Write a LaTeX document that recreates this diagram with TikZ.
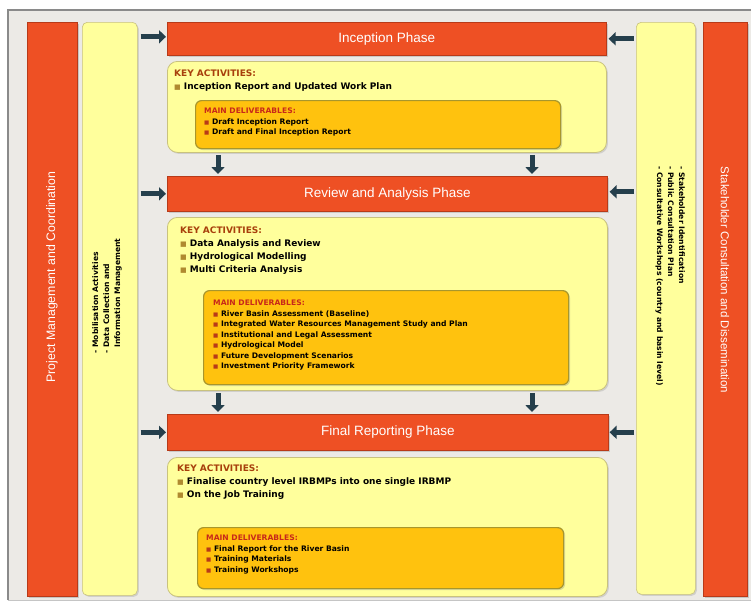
\documentclass[tikz,border=0pt]{standalone}
\usepackage{fontspec}
\setmainfont{Liberation Sans}
\newfontfamily\dvs{DejaVu Sans}
\usetikzlibrary{arrows.meta,shadows}
\definecolor{bgc}{HTML}{ECEAE6}
\definecolor{framec}{HTML}{8A8A8A}
\definecolor{redc}{HTML}{EE5024}
\definecolor{redd}{HTML}{B83A18}
\definecolor{yelc}{HTML}{FFFF9C}
\definecolor{yeld}{HTML}{C9C27E}
\definecolor{orc}{HTML}{FFC20E}
\definecolor{ord}{HTML}{A8962C}
\definecolor{keyc}{HTML}{A8400C}
\definecolor{delc}{HTML}{C8281A}
\definecolor{arrc}{HTML}{253F4C}
\definecolor{bulc}{HTML}{B08A30}
\tikzset{
  x=1pt, y=-1pt,
  redbar/.style={fill=redc, draw=redd, line width=0.6pt, inner sep=0pt, anchor=north west,
    drop shadow={opacity=0.35, shadow xshift=2pt, shadow yshift=-1.5pt}},
  yelbar/.style={fill=yelc, draw=yeld, line width=0.6pt, rounded corners=5pt, inner sep=0pt, anchor=north west,
    drop shadow={opacity=0.25, shadow xshift=1.5pt, shadow yshift=-1.5pt}},
  hdr/.style={fill=redc, draw=redd, line width=0.6pt, inner sep=0pt, anchor=north west,
    text=white, font=\fontsize{13.5}{15}\selectfont,
    drop shadow={opacity=0.3, shadow xshift=1.5pt, shadow yshift=-1.5pt}},
  cbox/.style={fill=yelc, draw=yeld, line width=0.8pt, rounded corners=10pt, inner sep=0pt, anchor=north west,
    drop shadow={opacity=0.25, shadow xshift=1.5pt, shadow yshift=-1.5pt}},
  dbox/.style={fill=orc, draw=ord, line width=1.2pt, rounded corners=6pt, inner sep=0pt, anchor=north west,
    drop shadow={opacity=0.3, shadow xshift=1.5pt, shadow yshift=-1.5pt}},
  acttext/.style={align=left, inner sep=0pt, anchor=north west, font=\dvs\fontsize{9}{13}\selectfont\bfseries},
  deltext/.style={align=left, inner sep=0pt, anchor=north west, font=\dvs\fontsize{7.6}{10.5}\selectfont\bfseries},
  sidetext/.style={align=left, inner sep=0pt, font=\dvs\fontsize{7.6}{11}\selectfont\bfseries},
  bartext/.style={text=white, inner sep=0pt},
  blk/.style={draw=arrc, line width=5pt, -{Triangle[length=7pt,width=13pt]}},
}
\newcommand{\kb}{\textcolor{bulc}{\fontsize{7}{7}\selectfont■}\ }
\newcommand{\db}{\textcolor{redd}{\fontsize{5.5}{5.5}\selectfont■}\ }
\begin{document}
\begin{tikzpicture}
\useasboundingbox (0,0) rectangle (751,603);
\fill[white] (0,0) rectangle (751,603);
\fill[bgc] (8,10) rectangle (751,600);
\draw[framec, line width=1.2pt] (8,600) -- (8,10) -- (751,10);
\draw[framec!50, line width=0.8pt] (8,600) -- (751,600);

% side bars
\node[redbar, minimum width=50pt, minimum height=574pt] (lred) at (27,22) {};
\node[yelbar, minimum width=55pt, minimum height=573pt] (lyel) at (82,22) {};
\node[yelbar, minimum width=59pt, minimum height=572pt] (ryel) at (636,22) {};
\node[redbar, minimum width=44pt, minimum height=574pt] (rred) at (703,22) {};

\node[bartext, rotate=90, font=\fontsize{12.3}{14}\selectfont] (lredt) at (52,277) {Project Management and Coordination};
\node[bartext, rotate=-90, font=\fontsize{11.5}{14}\selectfont] (rredt) at (725,280) {Stakeholder Consultation and Dissemination};

\node[sidetext, rotate=90] (lyelt) at (107,296) {- Mobilisation Activities\\- Data Collection and\\\phantom{- }Information Management};
\node[sidetext, rotate=-90, anchor=north west] (ryelt) at (685,166) {- Stakeholder Identification\\- Public Consultation Plan\\- Consultative Workshops (country and basin level)};

% Inception phase
\node[hdr, minimum width=439pt, minimum height=33pt] (ih) at (167,22) {Inception Phase};
\node[cbox, minimum width=439pt, minimum height=91pt] (ic) at (167,61) {};
\node[dbox, minimum width=365pt, minimum height=48pt] (idl) at (195,100) {};
\node[acttext] (ia) at (174,70) {\textcolor{keyc}{KEY ACTIVITIES:}\\\kb Inception Report and Updated Work Plan};
\node[deltext] (id) at (204,108) {\textcolor{delc}{MAIN DELIVERABLES:}\\\db Draft Inception Report\\\db Draft and Final Inception Report};

% Review phase
\node[hdr, minimum width=440pt, minimum height=35pt] (rh) at (167,176) {Review and Analysis Phase};
\node[cbox, minimum width=440pt, minimum height=173pt] (rc) at (167,217) {};
\node[dbox, minimum width=365pt, minimum height=94pt] (rdl) at (203,290) {};
\node[acttext] (ra) at (180,227) {\textcolor{keyc}{KEY ACTIVITIES:}\\\kb Data Analysis and Review\\\kb Hydrological Modelling\\\kb Multi Criteria Analysis};
\node[deltext] (rd) at (213,300) {\textcolor{delc}{MAIN DELIVERABLES:}\\\db River Basin Assessment (Baseline)\\\db Integrated Water Resources Management Study and Plan\\\db Institutional and Legal Assessment\\\db Hydrological Model\\\db Future Development Scenarios\\\db Investment Priority Framework};

% Final reporting phase
\node[hdr, minimum width=441pt, minimum height=36pt] (fh) at (167,414) {Final Reporting Phase};
\node[cbox, minimum width=440pt, minimum height=139pt] (fc) at (167,457) {};
\node[dbox, minimum width=366pt, minimum height=61pt] (fdl) at (197,527) {};
\node[acttext] (fa) at (177,465) {\textcolor{keyc}{KEY ACTIVITIES:}\\\kb Finalise country level IRBMPs into one single IRBMP\\\kb On the Job Training};
\node[deltext] (fd) at (206,535) {\textcolor{delc}{MAIN DELIVERABLES:}\\\db Final Report for the River Basin\\\db Training Materials\\\db Training Workshops};

% arrows from side bars
\draw[blk, shorten <=3pt, shorten >=1pt] ([yshift=2pt]lyel.east |- ih.west) -- ([yshift=2pt]ih.west);
\draw[blk, shorten <=3pt, shorten >=1pt] (lyel.east |- rh.west) -- (rh.west);
\draw[blk, shorten <=3pt, shorten >=1pt] (lyel.east |- fh.west) -- (fh.west);
\draw[blk, shorten <=2pt, shorten >=2pt] (ryel.west |- ih.east) -- (ih.east);
\draw[blk, shorten <=2pt, shorten >=2pt] ([yshift=2pt]ryel.west |- rh.east) -- ([yshift=2pt]rh.east);
\draw[blk, shorten <=2pt, shorten >=1pt] (ryel.west |- fh.east) -- (fh.east);

% down arrows
\draw[blk, shorten <=2pt, shorten >=2pt] ([xshift=51pt]ic.south west) -- ([xshift=51pt]rh.north west);
\draw[blk, shorten <=2pt, shorten >=2pt] ([xshift=365pt]ic.south west) -- ([xshift=365pt]rh.north west);
\draw[blk, shorten <=2pt, shorten >=2pt] ([xshift=51pt]rc.south west) -- ([xshift=51pt]fh.north west);
\draw[blk, shorten <=2pt, shorten >=2pt] ([xshift=365pt]rc.south west) -- ([xshift=365pt]fh.north west);
\end{tikzpicture}
\end{document}
